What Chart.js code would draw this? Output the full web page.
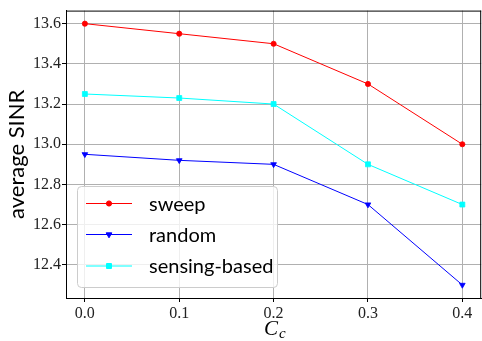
<!DOCTYPE html>
<html>
<head>
<meta charset="utf-8">
<script src="https://cdn.jsdelivr.net/npm/chart.js@4/dist/chart.umd.min.js"></script>
<style>
  html, body { margin: 0; padding: 0; background: #fff; overflow: hidden; }
  #wrap { width: 486px; height: 341px; }
</style>
</head>
<body>
<div id="wrap"><canvas id="chart" width="486" height="341"></canvas></div>
<script>
var xValues = [0.0, 0.1, 0.2, 0.3, 0.4];
var xTicks = [0.0, 0.1, 0.2, 0.3, 0.4];
var yTicks = [12.4, 12.6, 12.8, 13.0, 13.2, 13.4, 13.6];
var sweep = [13.6, 13.55, 13.5, 13.3, 13.0];
var random = [12.95, 12.92, 12.9, 12.7, 12.3];
var sensing = [13.25, 13.23, 13.2, 12.9, 12.7];

function pts(ys) {
  return ys.map(function (y, i) { return { x: xValues[i], y: y }; });
}

// matplotlib-style in-axes legend, top/right spines and subscripted x label
var extras = {
  id: "extras",
  afterDatasetsDraw: function (chart) {
    var ctx = chart.ctx;
    var a = chart.chartArea;
    ctx.save();
    ctx.strokeStyle = "#000";
    ctx.lineWidth = 1;
    ctx.beginPath();
    ctx.moveTo(a.left, a.top + 0.5);
    ctx.lineTo(a.right, a.top + 0.5);
    ctx.moveTo(a.right - 0.5, a.top);
    ctx.lineTo(a.right - 0.5, a.bottom);
    ctx.stroke();

    // legend frame
    var bx = 77.5, by = 186.5, bw = 200, bh = 101, r = 4;
    ctx.beginPath();
    ctx.moveTo(bx + r, by);
    ctx.arcTo(bx + bw, by, bx + bw, by + bh, r);
    ctx.arcTo(bx + bw, by + bh, bx, by + bh, r);
    ctx.arcTo(bx, by + bh, bx, by, r);
    ctx.arcTo(bx, by, bx + bw, by, r);
    ctx.closePath();
    ctx.fillStyle = "rgba(255,255,255,0.8)";
    ctx.fill();
    ctx.strokeStyle = "#cccccc";
    ctx.stroke();

    var rows = [203.5, 234.5, 266];
    chart.data.datasets.forEach(function (ds, i) {
      var y = rows[i];
      ctx.strokeStyle = ds.borderColor;
      ctx.lineWidth = ds.borderWidth;
      ctx.beginPath();
      ctx.moveTo(86, y);
      ctx.lineTo(132, y);
      ctx.stroke();
      ctx.fillStyle = ds.backgroundColor;
      ctx.strokeStyle = ds.borderColor;
      Chart.helpers.drawPoint(ctx, {
        pointStyle: ds.pointStyle,
        radius: ds.pointRadius,
        rotation: ds.pointRotation || 0,
        borderWidth: ds.pointBorderWidth
      }, 109, y);
      ctx.fillStyle = "#000";
      ctx.font = "20px Lato";
      ctx.textBaseline = "middle";
      ctx.textAlign = "left";
      ctx.fillText(ds.label, 149, y + 1);
    });

    // x axis label C_c
    ctx.fillStyle = "#000";
    ctx.textBaseline = "alphabetic";
    ctx.font = "italic 21px 'Liberation Serif'";
    ctx.fillText("C", 264, 335);
    ctx.font = "italic 15px 'Liberation Serif'";
    ctx.fillText("c", 279, 338);
    ctx.restore();
  }
};

new Chart(document.getElementById("chart"), {
  type: "line",
  data: {
    datasets: [
      { label: "sweep", data: pts(sweep), borderColor: "#ff0000", backgroundColor: "#ff0000",
        borderWidth: 1, pointStyle: "circle", pointRadius: 2.6, pointBorderWidth: 0.8 },
      { label: "random", data: pts(random), borderColor: "#0000ff", backgroundColor: "#0000ff",
        borderWidth: 1, pointStyle: "triangle", pointRotation: 180, pointRadius: 3.3, pointBorderWidth: 0.8 },
      { label: "sensing-based", data: pts(sensing), borderColor: "#00ffff", backgroundColor: "#00ffff",
        borderWidth: 1, pointStyle: "rect", pointRadius: 3.5, pointBorderWidth: 0.8 }
    ]
  },
  options: {
    responsive: false,
    animation: false,
    layout: { padding: { top: 7, right: 2, left: 0, bottom: 0 } },
    plugins: { legend: { display: false }, tooltip: { enabled: false } },
    scales: {
      x: {
        type: "linear",
        min: -0.02,
        max: 0.42,
        afterBuildTicks: function (s) { s.ticks = xTicks.map(function (v) { return { value: v }; }); },
        afterFit: function (s) { s.height = 43; },
        ticks: {
          padding: 2,
          color: "#222",
          font: { family: "'Liberation Serif'", size: 16 },
          callback: function (v) { return Number(v).toFixed(1); }
        },
        grid: { color: "#b0b0b0", lineWidth: 1, tickColor: "#000", tickLength: 4 },
        border: { color: "#000", width: 1 }
      },
      y: {
        min: 12.235,
        max: 13.665,
        afterBuildTicks: function (s) { s.ticks = yTicks.map(function (v) { return { value: v }; }); },
        afterFit: function (s) { s.width = 66; },
        ticks: {
          padding: 1,
          color: "#222",
          font: { family: "'Liberation Serif'", size: 16 },
          callback: function (v) { return Number(v).toFixed(1); }
        },
        title: {
          display: true,
          text: "average SINR",
          color: "#000",
          font: { family: "Lato", size: 22 },
          padding: { top: 4, bottom: 0 }
        },
        grid: { color: "#b0b0b0", lineWidth: 1, tickColor: "#000", tickLength: 4 },
        border: { color: "#000", width: 1 }
      }
    }
  },
  plugins: [extras]
});
</script>
</body>
</html>
